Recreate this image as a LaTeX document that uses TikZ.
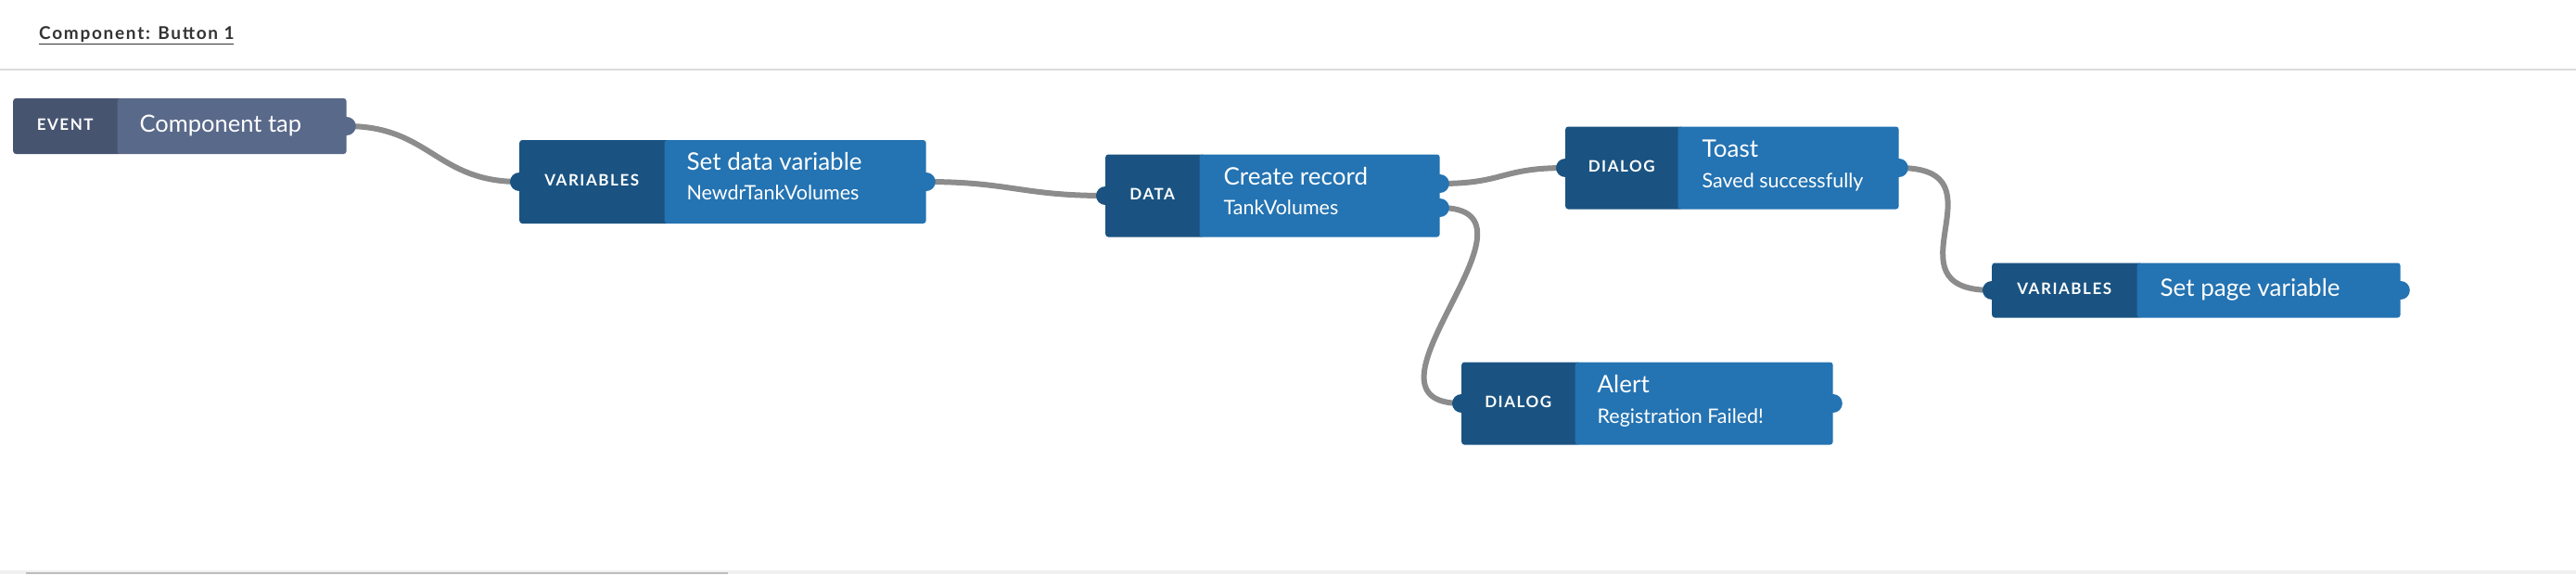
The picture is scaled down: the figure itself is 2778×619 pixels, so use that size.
\documentclass[tikz,border=0pt]{standalone}
\usepackage{fontspec}
\setmainfont{Lato}
\newfontfamily\tagfont[LetterSpace=9]{Lato}
\usetikzlibrary{positioning,backgrounds}
\definecolor{evtag}{HTML}{475470}
\definecolor{evbody}{HTML}{59698A}
\definecolor{actag}{HTML}{1A5381}
\definecolor{acbody}{HTML}{2473B2}
\definecolor{wiregray}{HTML}{8C8C8C}
\definecolor{rulegray}{HTML}{DCDCDC}
\definecolor{headgray}{HTML}{333333}
\definecolor{trackgray}{HTML}{F0F0F0}
\definecolor{thumbgray}{HTML}{BDBDBD}
\begin{document}
\begin{tikzpicture}[x=1pt,y=-1pt,
  tagbox/.style={rectangle,rounded corners=3pt,inner sep=0pt,anchor=west,text=white,
    font=\tagfont\bfseries\fontsize{17}{17}\selectfont,text height=0.96em,text depth=0pt},
  bodybox/.style={rectangle,rounded corners=3pt,inner sep=0pt},
  headline/.style={anchor=west,inner sep=0pt,text=white,yshift=-3pt,
    font=\fontsize{26}{26}\selectfont,text height=0.72em,text depth=0pt},
  subline/.style={anchor=west,inner sep=0pt,text=white,yshift=-3pt,
    font=\fontsize{21.5}{21.5}\selectfont,text height=0.72em,text depth=0pt},
  port/.style={circle,inner sep=0pt,minimum size=20pt},
  wire/.style={draw=wiregray,line width=6pt}]
\useasboundingbox (0,0) rectangle (2778,619);
% header
\node(header) at (42,38)[anchor=west,inner sep=0pt,text=headgray,
  font=\tagfont\bfseries\fontsize{19}{19}\selectfont]{\underline{Component: Button 1}};
\draw[rulegray,line width=2pt] (0,75) -- (2778,75);
% blocks
\node(evtag) at (14,136)[tagbox,fill=evtag,minimum width=118,minimum height=60]{\hspace*{-6pt}EVENT};
\node(evbody)[bodybox,fill=evbody,right=-6pt of evtag,minimum width=247,minimum height=60]{};
\node(evtitle) at ([xshift=24pt]evbody.west)[headline,font=\fontsize{25.5}{25.5}\selectfont]{Component tap};

\node(vartag) at (560,196)[tagbox,fill=actag,minimum width=162,minimum height=90]{\hspace*{-6pt}VARIABLES};
\node(varbody)[bodybox,fill=acbody,right=-6pt of vartag,minimum width=282,minimum height=90]{};
\node(vartitle) at ([xshift=24pt,yshift=19pt]varbody.west)[headline]{Set data variable};
\node(varsub) at ([xshift=24pt,yshift=-13pt]varbody.west)[subline]{NewdrTankVolumes};

\node(datatag) at (1192,211)[tagbox,fill=actag,minimum width=107,minimum height=89]{\hspace*{-6pt}DATA};
\node(databody)[bodybox,fill=acbody,right=-6pt of datatag,minimum width=259,minimum height=89]{};
\node(datatitle) at ([xshift=26pt,yshift=18pt]databody.west)[headline]{Create record};
\node(datasub) at ([xshift=26pt,yshift=-14pt]databody.west)[subline]{TankVolumes};

\node(toasttag) at (1688,181)[tagbox,fill=actag,minimum width=127,minimum height=89]{\hspace*{-6pt}DIALOG};
\node(toastbody)[bodybox,fill=acbody,right=-6pt of toasttag,minimum width=238,minimum height=89]{};
\node(toasttitle) at ([xshift=26pt,yshift=18pt]toastbody.west)[headline]{Toast};
\node(toastsub) at ([xshift=26pt,yshift=-15pt]toastbody.west)[subline]{Saved successfully};

\node(alerttag) at (1576,435)[tagbox,fill=actag,minimum width=128,minimum height=89]{\hspace*{-6pt}DIALOG};
\node(alertbody)[bodybox,fill=acbody,right=-6pt of alerttag,minimum width=278,minimum height=89]{};
\node(alerttitle) at ([xshift=24pt,yshift=18pt]alertbody.west)[headline]{Alert};
\node(alertsub) at ([xshift=24pt,yshift=-15pt]alertbody.west)[subline]{Registration Failed!};

\node(pagetag) at (2148,313)[tagbox,fill=actag,minimum width=162,minimum height=59]{\hspace*{-6pt}VARIABLES};
\node(pagebody)[bodybox,fill=acbody,right=-6pt of pagetag,minimum width=284,minimum height=59]{};
\node(pagetitle) at ([xshift=25pt]pagebody.west)[headline]{Set page variable};
% ports
\node(ev-out) at (evbody.east)[port,fill=evbody]{};
\node(var-in) at (vartag.west)[port,fill=actag]{};
\node(var-out) at (varbody.east)[port,fill=acbody]{};
\node(data-in) at (datatag.west)[port,fill=actag]{};
\node(data-ok) at ([yshift=13pt]databody.east)[port,fill=acbody]{};
\node(data-err) at ([yshift=-13pt]databody.east)[port,fill=acbody]{};
\node(toast-in) at (toasttag.west)[port,fill=actag]{};
\node(toast-out) at (toastbody.east)[port,fill=acbody]{};
\node(alert-in) at (alerttag.west)[port,fill=actag]{};
\node(alert-out) at (alertbody.east)[port,fill=acbody]{};
\node(page-in) at (pagetag.west)[port,fill=actag]{};
\node(page-out) at (pagebody.east)[port,fill=acbody]{};
% wires
\begin{scope}[on background layer]
\path[wire]
  (ev-out.center)    .. controls +(90,0) and +(-90,0)   .. (var-in.center)
  (var-out.center)   .. controls +(90,0) and +(-90,0)   .. (data-in.center)
  (data-ok.center)   .. controls +(70,0) and +(-70,0)   .. (toast-in.center)
  (data-err.center)  .. controls +(130,0) and +(-130,0) .. (alert-in.center)
  (toast-out.center) .. controls +(120,0) and +(-120,0) .. (page-in.center);
\end{scope}
% scrollbar
\fill[trackgray] (0,615) rectangle (2778,619);
\fill[thumbgray] (28,616.5) rectangle (785,619);
\end{tikzpicture}
\end{document}
